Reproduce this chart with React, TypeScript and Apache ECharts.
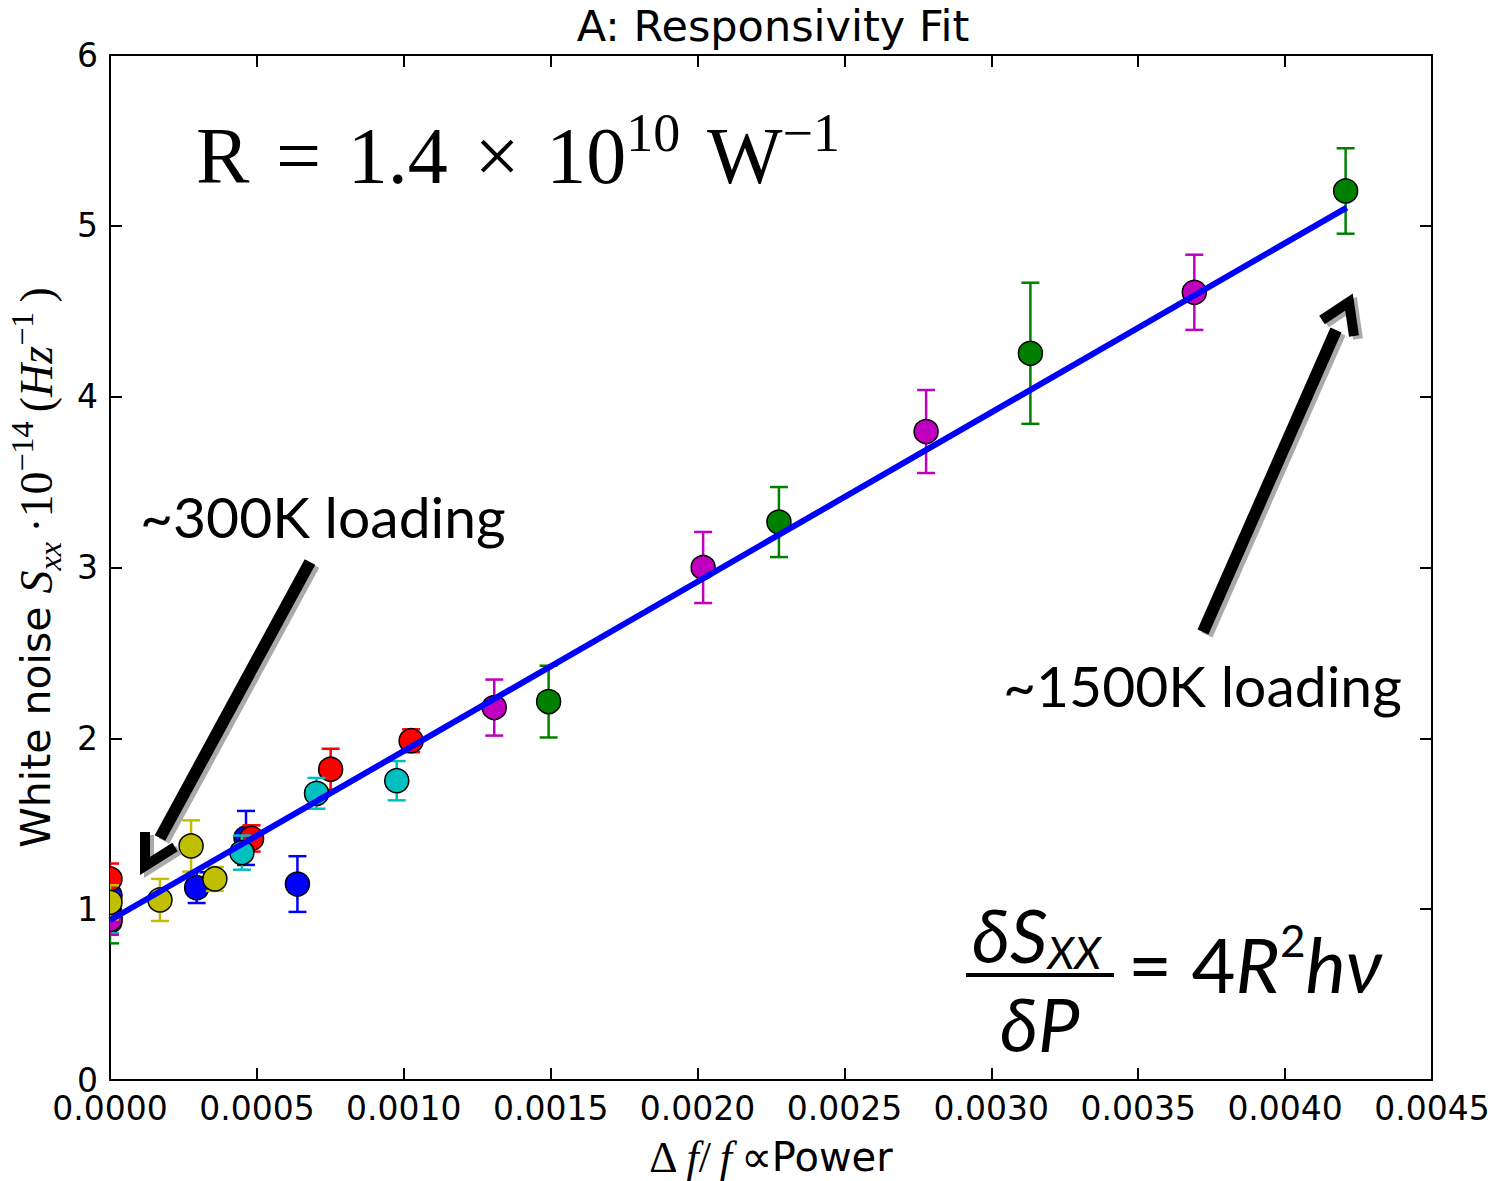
import React, { useEffect, useRef } from 'react';
import * as echarts from 'echarts';

// ---- data ----
const xMin = 0;
const xMax = 0.0045;
const xStep = 0.0005;
const yMin = 0;
const yMax = 6;
const yStep = 1;

const blueX = [0, 0.000295, 0.000463, 0.000638];
const blueY = [1.08, 1.126, 1.417, 1.147];
const blueErr = [0.08, 0.09, 0.158, 0.163];

const greenX = [0, 0.001493, 0.002277, 0.003133, 0.004206];
const greenY = [0.93, 2.215, 3.266, 4.254, 5.204];
const greenErr = [0.13, 0.21, 0.205, 0.413, 0.25];

const redX = [0, 0.000482, 0.000751, 0.001025];
const redY = [1.177, 1.414, 1.819, 1.986];
const redErr = [0.09, 0.077, 0.12, 0.067];

const cyanX = [0, 0.000449, 0.000703, 0.000976];
const cyanY = [0.96, 1.331, 1.678, 1.752];
const cyanErr = [0.1, 0.1, 0.09, 0.115];

const magentaX = [0, 0.001308, 0.002019, 0.002778, 0.003691];
const magentaY = [0.94, 2.18, 3.0, 3.796, 4.611];
const magentaErr = [0.09, 0.164, 0.208, 0.243, 0.22];

const yellowX = [0, 0.00017, 0.000276, 0.000357];
const yellowY = [1.04, 1.054, 1.37, 1.177];
const yellowErr = [0.1, 0.123, 0.15, 0.07];

const fitX = [0, 0.00421];
const fitY = [0.935, 5.107];

const SERIES = [
  { name: 'blue', color: '#0000ff', x: blueX, y: blueY, e: blueErr },
  { name: 'green', color: '#008000', x: greenX, y: greenY, e: greenErr },
  { name: 'red', color: '#ff0000', x: redX, y: redY, e: redErr },
  { name: 'cyan', color: '#00bfbf', x: cyanX, y: cyanY, e: cyanErr },
  { name: 'magenta', color: '#bf00bf', x: magentaX, y: magentaY, e: magentaErr },
  { name: 'yellow', color: '#bfbf00', x: yellowX, y: yellowY, e: yellowErr },
];

const TITLE = 'A: Responsivity Fit';

function errorSeries(s: any) {
  return {
    type: 'custom',
    name: s.name,
    coordinateSystem: 'cartesian2d',
    xAxisIndex: 0,
    yAxisIndex: 0,
    clip: true,
    encode: { x: 0, y: 1 },
    data: s.x.map((x: number, i: number) => [x, s.y[i], s.e[i]]),
    renderItem: (params: any, api: any) => {
      const x = api.value(0);
      const y = api.value(1);
      const e = api.value(2);
      const c = api.coord([x, y]);
      const t = api.coord([x, y + e]);
      const b = api.coord([x, y - e]);
      const cap = 9;
      const ls = { stroke: s.color, lineWidth: 2.5 };
      return {
        type: 'group',
        children: [
          { type: 'line', shape: { x1: c[0], y1: t[1], x2: c[0], y2: b[1] }, style: ls },
          { type: 'line', shape: { x1: c[0] - cap, y1: t[1], x2: c[0] + cap, y2: t[1] }, style: ls },
          { type: 'line', shape: { x1: c[0] - cap, y1: b[1], x2: c[0] + cap, y2: b[1] }, style: ls },
          {
            type: 'circle',
            shape: { cx: c[0], cy: c[1], r: 12 },
            style: { fill: s.color, stroke: '#000', lineWidth: 1.5 },
          },
        ],
      };
    },
  };
}

const axisLineStyle = { color: '#000', width: 2 };

function arrow(shaft: number[][], head: number[][]) {
  const shadowOff = [4, 3];
  const sh = (pts: number[][]) => pts.map((p) => [p[0] + shadowOff[0], p[1] + shadowOff[1]]);
  const mk = (pts: number[][], color: string, z: number) => ({
    type: 'line',
    z,
    shape: { x1: pts[0][0], y1: pts[0][1], x2: pts[1][0], y2: pts[1][1] },
    style: { stroke: color, lineWidth: 12, lineCap: 'butt' },
  });
  const mkHead = (pts: number[][], color: string, z: number) => ({
    type: 'polyline',
    z,
    shape: { points: pts },
    style: { stroke: color, lineWidth: 10, lineJoin: 'miter', lineCap: 'butt', fill: 'none' },
  });
  return [
    mk(sh(shaft), '#aaaaaa', 50),
    mkHead(sh(head), '#aaaaaa', 50),
    mk(shaft, '#000', 51),
    mkHead(head, '#000', 51),
  ];
}

export default function App() {
  const ref = useRef<HTMLDivElement>(null);
  useEffect(() => {
    if (!ref.current) return;
    const chart = echarts.init(ref.current, undefined, { renderer: 'svg' });
    const option: any = {
      animation: false,
      backgroundColor: '#ffffff',
      title: {
        text: TITLE,
        left: 773,
        top: 4,
        padding: 0,
        textAlign: 'center',
        textStyle: { fontFamily: 'DejaVu Sans', fontSize: 43, fontWeight: 'normal', color: '#000' },
      },
      grid: {
        left: 110,
        right: 68,
        top: 55,
        bottom: 101,
        containLabel: false,
        outerBoundsMode: 'none',
      },
      xAxis: [
        {
          type: 'value',
          position: 'bottom',
          min: xMin,
          max: xMax,
          interval: xStep,
          axisLine: { show: true, onZero: false, lineStyle: axisLineStyle },
          axisTick: { show: true, inside: true, length: 12, lineStyle: axisLineStyle },
          axisLabel: {
            formatter: (v: number) => v.toFixed(4),
            fontSize: 33,
            lineHeight: 27,
            fontFamily: 'DejaVu Sans',
            color: '#000',
            margin: 15,
          },
          splitLine: { show: false },
          name: '{m|Δ}{mi|\u2009f}{m|/}{mi|\u2009f\u2009}{m|∝}{s|Power}',
          nameLocation: 'middle',
          nameGap: 56,
          nameTextStyle: {
            rich: {
              m: { fontFamily: 'Liberation Serif', fontSize: 44, lineHeight: 42, color: '#000' },
              mi: { fontFamily: 'Liberation Serif', fontStyle: 'italic', fontSize: 44, lineHeight: 42, color: '#000' },
              s: { fontFamily: 'DejaVu Sans', fontSize: 40, lineHeight: 42, color: '#000' },
            },
          },
        },
        {
          type: 'value',
          position: 'top',
          min: xMin,
          max: xMax,
          interval: xStep,
          axisLine: { show: true, onZero: false, lineStyle: axisLineStyle },
          axisTick: { show: true, inside: true, length: 12, lineStyle: axisLineStyle },
          axisLabel: { show: false },
          splitLine: { show: false },
        },
      ],
      yAxis: [
        {
          type: 'value',
          position: 'left',
          min: yMin,
          max: yMax,
          interval: yStep,
          axisLine: { show: true, onZero: false, lineStyle: axisLineStyle },
          axisTick: { show: true, inside: true, length: 12, lineStyle: axisLineStyle },
          axisLabel: { fontSize: 33, lineHeight: 20, fontFamily: 'DejaVu Sans', color: '#000', margin: 12 },
          splitLine: { show: false },
          name: '{a|White noise }{mi|S}{sub|xx}{m|\u2009·10}{sup|−14}{m|\u2009(}{mi|Hz}{sup|−1}{m|\u2009)}',
          nameLocation: 'middle',
          nameRotate: 90,
          nameGap: 44,
          nameTextStyle: {
            rich: {
              a: { fontFamily: 'DejaVu Sans', fontSize: 41, lineHeight: 60, verticalAlign: 'middle', color: '#000' },
              mi: { fontFamily: 'Liberation Serif', fontStyle: 'italic', fontSize: 46, lineHeight: 60, verticalAlign: 'middle', color: '#000' },
              m: { fontFamily: 'Liberation Serif', fontSize: 46, lineHeight: 60, verticalAlign: 'middle', color: '#000' },
              sub: { fontFamily: 'Liberation Serif', fontStyle: 'italic', fontSize: 32, lineHeight: 36, verticalAlign: 'bottom', color: '#000' },
              sup: { fontFamily: 'Liberation Serif', fontSize: 32, lineHeight: 34, verticalAlign: 'top', color: '#000' },
            },
          },
        },
        {
          type: 'value',
          position: 'right',
          min: yMin,
          max: yMax,
          interval: yStep,
          axisLine: { show: true, onZero: false, lineStyle: axisLineStyle },
          axisTick: { show: true, inside: true, length: 12, lineStyle: axisLineStyle },
          axisLabel: { show: false },
          splitLine: { show: false },
        },
      ],
      series: [
        ...SERIES.map(errorSeries),
        {
          type: 'line',
          name: 'fit',
          xAxisIndex: 0,
          yAxisIndex: 0,
          data: fitX.map((x, i) => [x, fitY[i]]),
          showSymbol: false,
          symbol: 'none',
          clip: true,
          z: 5,
          lineStyle: { color: '#0000ff', width: 6 },
        },
      ],
      graphic: [
        {
          type: 'text',
          z: 60,
          x: 196,
          y: 156,
          style: {
            text: '{b|R\u2004=\u20041.4\u2004×\u200410}{s|10}{b|\u2004W}{s|−1}',
            fill: '#000',
            verticalAlign: 'middle',
            rich: {
              b: { fontFamily: 'Liberation Serif', fontSize: 80, lineHeight: 100, verticalAlign: 'middle', fill: '#000' },
              s: { fontFamily: 'Liberation Serif', fontSize: 54, lineHeight: 56, verticalAlign: 'top', fill: '#000' },
            },
          },
        },
        {
          type: 'text',
          z: 60,
          x: 140,
          y: 516,
          style: { text: '~300K loading', fill: '#000', font: '57px Lato', verticalAlign: 'middle' },
        },
        {
          type: 'text',
          z: 60,
          x: 1003,
          y: 685,
          style: { text: '~1500K loading', fill: '#000', font: '57px Lato', verticalAlign: 'middle' },
        },
        {
          type: 'text',
          z: 60,
          x: 972,
          y: 934,
          style: {
            text: '{d|δS}{u|XX}',
            fill: '#000',
            verticalAlign: 'middle',
            rich: {
              d: { fontFamily: 'Lato', fontStyle: 'italic', fontSize: 74, lineHeight: 80, verticalAlign: 'middle', fill: '#000' },
              u: { fontFamily: 'Lato', fontStyle: 'italic', fontSize: 44, lineHeight: 52, verticalAlign: 'bottom', fill: '#000' },
            },
          },
        },
        {
          type: 'line',
          z: 60,
          shape: { x1: 966, y1: 975, x2: 1114, y2: 975 },
          style: { stroke: '#000', lineWidth: 4 },
        },
        {
          type: 'text',
          z: 60,
          x: 1000,
          y: 1023,
          style: { text: 'δP', fill: '#000', font: 'italic 74px Lato', verticalAlign: 'middle' },
        },
        {
          type: 'text',
          z: 60,
          x: 1128,
          y: 963,
          style: {
            text: '{n|= 4}{i|R}{s|2}{i|hν}',
            fill: '#000',
            verticalAlign: 'middle',
            rich: {
              n: { fontFamily: 'Lato', fontSize: 76, lineHeight: 90, verticalAlign: 'middle', fill: '#000' },
              i: { fontFamily: 'Lato', fontStyle: 'italic', fontSize: 76, lineHeight: 90, verticalAlign: 'middle', fill: '#000' },
              s: { fontFamily: 'Lato', fontSize: 44, lineHeight: 50, verticalAlign: 'top', fill: '#000' },
            },
          },
        },
        ...arrow(
          [
            [310, 562],
            [160, 838],
          ],
          [
            [145, 832],
            [145, 866],
            [175, 847],
          ],
        ),
        ...arrow(
          [
            [1203, 632],
            [1336, 330],
          ],
          [
            [1322, 320],
            [1349, 302],
            [1354, 336],
          ],
        ),
      ],
    };
    chart.setOption(option);
    return () => chart.dispose();
  }, []);
  return (
    <div
      ref={ref}
      style={{ position: 'fixed', left: 0, top: 0, width: 1500, height: 1181, background: '#fff' }}
    />
  );
}
